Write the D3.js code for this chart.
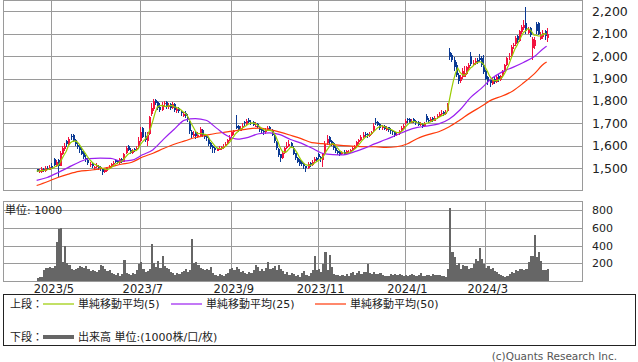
<!DOCTYPE html>
<html><head><meta charset="utf-8">
<script src="https://cdn.jsdelivr.net/npm/d3@7"></script>
<style>
html,body{margin:0;padding:0;background:#fff;}
svg{display:block;}
text{font-family:"DejaVu Sans","Noto Sans CJK JP",sans-serif;}
</style></head><body>
<svg id="c" width="638" height="362"></svg>
<script>
// ---- data ----
const open = [1495,1484,1483,1498,1488,1502,1492,1510,1540,1512,
1535,1512,1565,1585,1620,1605,1645,1648,1625,1605,
1598,1575,1570,1545,1535,1515,1522,1500,1505,1512,
1505,1498,1482,1488,1498,1508,1518,1535,1532,1522,
1540,1530,1568,1598,1582,1568,1585,1582,1595,1620,
1680,1645,1620,1655,1740,1765,1805,1795,1775,1760,
1785,1795,1772,1785,1768,1785,1755,1768,1752,1735,
1745,1728,1710,1662,1645,1660,1640,1645,1672,1650,
1645,1632,1612,1598,1592,1578,1583,1588,1592,1600,
1612,1625,1642,1662,1690,1688,1668,1682,1705,1698,
1715,1702,1705,1688,1698,1685,1675,1668,1660,1672,
1685,1672,1648,1615,1588,1562,1545,1568,1592,1600,
1612,1592,1568,1545,1535,1528,1518,1508,1502,1522,
1515,1532,1545,1565,1548,1535,1565,1612,1640,1620,
1612,1592,1578,1572,1562,1572,1565,1568,1572,1582,
1588,1600,1615,1628,1640,1655,1652,1645,1655,1665,
1705,1705,1698,1678,1688,1672,1682,1672,1668,1662,
1648,1655,1665,1680,1700,1718,1718,1702,1718,1712,
1705,1695,1698,1688,1735,1715,1708,1725,1712,1722,
1735,1740,1750,1742,1755,2020,2005,1985,1960,1915,
1890,1905,1908,1920,1948,2000,1962,1968,1985,1990,
1990,1960,1935,1905,1895,1878,1900,1885,1912,1895,
1910,1935,1962,1995,2000,2045,2052,2088,2068,2108,
2125,2150,2105,2125,2035,2045,2145,2148,2078,2085,2110,2082];
const high = [1498,1495,1505,1502,1508,1510,1515,1525,1545,1535,
1540,1575,1600,1612,1625,1640,1655,1652,1632,1615,
1605,1590,1575,1560,1545,1530,1528,1512,1522,1515,
1510,1500,1498,1505,1515,1525,1532,1540,1538,1545,
1545,1570,1598,1602,1590,1585,1592,1598,1640,1685,
1685,1660,1660,1735,1790,1810,1808,1800,1790,1795,
1800,1802,1790,1790,1795,1790,1775,1772,1760,1752,
1755,1740,1712,1670,1665,1665,1660,1685,1675,1655,
1650,1640,1618,1605,1596,1592,1598,1600,1608,1618,
1632,1648,1665,1670,1738,1695,1690,1700,1712,1718,
1722,1715,1712,1705,1702,1688,1680,1672,1678,1690,
1690,1675,1652,1620,1592,1565,1578,1595,1615,1625,
1615,1598,1570,1550,1540,1532,1522,1512,1528,1530,
1538,1548,1550,1570,1555,1570,1620,1648,1645,1628,
1618,1598,1582,1578,1578,1580,1582,1580,1588,1598,
1605,1622,1632,1650,1660,1662,1658,1662,1668,1700,
1725,1712,1702,1692,1695,1688,1686,1678,1672,1665,
1662,1672,1688,1698,1718,1725,1722,1718,1722,1715,
1710,1708,1702,1708,1740,1722,1728,1730,1732,1742,
1752,1758,1755,1760,1792,2036,2015,1995,1972,1925,
1915,1945,1955,1958,1968,2020,1985,1990,1992,2008,
2000,2005,1940,1910,1900,1905,1908,1915,1920,1918,
1940,1965,1995,2012,2048,2060,2090,2095,2118,2140,
2160,2220,2130,2130,2085,2085,2152,2152,2108,2118,2115,2125];
const low = [1484,1478,1480,1485,1485,1490,1490,1495,1508,1505,
1462,1510,1560,1575,1595,1600,1625,1615,1600,1585,
1570,1560,1540,1530,1515,1505,1500,1492,1500,1492,
1488,1472,1478,1485,1495,1505,1515,1522,1518,1520,
1525,1528,1562,1575,1565,1565,1572,1578,1592,1615,
1635,1615,1600,1650,1735,1755,1780,1760,1750,1755,
1775,1765,1765,1760,1765,1750,1748,1745,1735,1728,
1725,1705,1655,1635,1640,1630,1635,1640,1640,1630,
1622,1600,1585,1570,1570,1575,1580,1580,1588,1596,
1608,1620,1638,1650,1675,1662,1665,1675,1690,1695,
1700,1695,1688,1685,1680,1662,1655,1648,1655,1668,
1668,1645,1612,1580,1550,1530,1540,1565,1588,1595,
1592,1560,1538,1522,1512,1508,1498,1482,1498,1505,
1510,1525,1528,1540,1530,1506,1560,1605,1605,1600,
1582,1568,1560,1555,1558,1558,1560,1562,1568,1578,
1585,1598,1610,1622,1635,1640,1635,1640,1650,1660,
1695,1688,1672,1672,1670,1668,1662,1655,1648,1640,
1642,1650,1662,1675,1695,1700,1698,1700,1700,1692,
1688,1690,1680,1685,1705,1702,1705,1708,1710,1718,
1730,1735,1732,1738,1752,1985,1975,1935,1905,1875,
1882,1900,1905,1915,1940,1955,1955,1960,1965,1975,
1950,1922,1892,1870,1862,1872,1875,1880,1885,1890,
1905,1930,1955,1985,1995,2030,2045,2060,2062,2100,
2118,2100,2098,2085,1985,2030,2100,2095,2070,2075,2070,2065];
const close = [1488,1486,1495,1490,1500,1496,1505,1498,1515,1530,
1510,1570,1590,1600,1610,1630,1640,1620,1610,1595,
1580,1565,1550,1540,1525,1520,1510,1505,1515,1500,
1495,1485,1490,1500,1510,1520,1525,1530,1525,1540,
1530,1565,1590,1580,1570,1575,1580,1590,1620,1660,
1640,1625,1650,1730,1770,1800,1790,1770,1760,1780,
1790,1775,1780,1770,1785,1760,1765,1755,1745,1740,
1735,1715,1665,1650,1655,1645,1650,1675,1650,1640,
1635,1610,1595,1590,1580,1585,1590,1595,1600,1610,
1625,1640,1660,1665,1680,1670,1680,1690,1700,1710,
1705,1700,1695,1690,1685,1670,1665,1660,1670,1680,
1675,1650,1620,1590,1560,1545,1570,1590,1600,1610,
1600,1565,1545,1530,1520,1520,1510,1500,1520,1515,
1530,1540,1535,1550,1540,1565,1610,1630,1615,1610,
1590,1575,1570,1560,1570,1565,1575,1570,1580,1590,
1600,1615,1625,1640,1650,1650,1645,1655,1660,1690,
1700,1695,1680,1685,1675,1680,1670,1665,1660,1650,
1655,1665,1680,1690,1710,1715,1705,1710,1705,1700,
1695,1700,1690,1700,1715,1710,1720,1715,1725,1735,
1740,1745,1740,1750,1785,1995,1985,1950,1915,1890,
1905,1935,1925,1950,1960,1965,1970,1980,1975,1985,
1960,1930,1900,1890,1880,1895,1885,1905,1895,1910,
1935,1960,1990,2000,2040,2050,2080,2070,2110,2130,
2140,2110,2120,2095,2075,2070,2110,2100,2095,2105,2090,2100];
const volume = [30,40,50,120,150,145,160,150,170,440,
590,600,220,390,200,180,140,120,130,150,
165,160,150,175,130,110,120,110,100,125,
180,170,130,110,120,90,80,70,90,60,
80,240,90,80,70,90,75,120,190,210,
130,100,110,140,420,200,160,230,150,280,
170,150,130,100,90,70,95,80,100,110,
140,100,120,480,200,210,180,150,130,120,
140,120,160,90,70,60,80,70,60,80,
90,140,150,120,160,140,100,110,90,80,
100,90,120,180,160,110,130,110,150,210,
130,150,170,120,180,140,110,80,100,70,
90,80,60,70,50,90,110,70,60,90,
120,285,120,140,100,190,325,120,295,160,
80,70,70,60,65,60,75,60,90,100,
70,90,110,80,100,100,190,90,80,100,
75,80,85,70,60,55,60,75,70,75,
65,75,65,60,65,60,65,80,65,60,
65,85,55,55,70,65,60,75,65,70,
65,60,55,50,140,830,330,275,180,200,
140,180,170,175,140,150,190,250,230,375,
250,190,150,170,130,150,110,100,80,70,
60,50,55,80,100,90,120,110,140,130,
120,140,220,285,280,520,270,325,230,120,125,130];
// moving averages 25 / 50 every 5 trading days
const maIdx = [0,5,10,15,20,25,30,35,40,45,50,55,60,65,70,75,80,85,90,95,100,105,110,115,120,125,130,135,140,145,150,155,160,165,170,175,180,185,190,195,200,205,210,215,220,225,230,235,240,241];
const ma25 = [1446,1459,1480,1504,1527,1543,1545,1544,1532,1536,1560,1583,1630,1674,1715,1721,1714,1679,1645,1630,1638,1654,1658,1650,1628,1612,1590,1567,1561,1560,1573,1590,1610,1628,1648,1668,1682,1689,1698,1720,1760,1815,1855,1900,1930,1950,1972,1997,2038,2044];
const ma50 = [1423,1440,1459,1474,1486,1491,1497,1507,1518,1527,1550,1567,1588,1607,1622,1637,1647,1656,1662,1669,1676,1679,1672,1661,1647,1632,1614,1610,1605,1601,1598,1596,1596,1593,1596,1608,1633,1650,1663,1685,1715,1747,1775,1805,1822,1845,1880,1920,1968,1974];
const priceTicks = [1500,1600,1700,1800,1900,2000,2100,2200];
const volTicks = [200,400,600,800];
const monthLabels = ["2023/5","2023/7","2023/9","2023/11","2024/1","2024/3"];
const monthIdx = [7,49,92,133,174,212];
const legendTop = ["単純移動平均(5)","単純移動平均(25)","単純移動平均(50)"];

// ---- layout ----
const N = close.length;
const plotL = 3, plotR = 582, mainT = 1, mainB = 190, volT = 201, volB = 281;
const C_UP = "#f2133f", C_DN = "#0b3a94", GRID = "#9a9a9a";
const C5 = "#99cc00", C25 = "#9b1ff0", C50 = "#ff3a0a";

const x = d3.scaleLinear().domain([-15.9, 257.7]).range([plotL, plotR]);
const y = d3.scaleLinear().domain([1403, 2246]).range([mainB, mainT]);
const yv = d3.scaleLinear().domain([0, 904]).range([volB, volT]);

const svg = d3.select("#c");
svg.append("rect").attr("width",638).attr("height",362).attr("fill","#fff");

// main grid
const gm = svg.append("g");
gm.append("g").attr("transform",`translate(${plotL},0)`)
  .call(d3.axisLeft(y).tickValues(priceTicks).tickSize(-(plotR-plotL)).tickFormat(""))
  .call(g=>g.select(".domain").remove())
  .call(g=>g.selectAll("line").attr("stroke",GRID).attr("shape-rendering","crispEdges"));
gm.append("g").attr("transform",`translate(0,${mainB})`)
  .call(d3.axisBottom(x).tickValues(monthIdx).tickSize(-(mainB-mainT)).tickFormat(""))
  .call(g=>g.select(".domain").remove())
  .call(g=>g.selectAll("line").attr("stroke",GRID).attr("shape-rendering","crispEdges"));
gm.append("rect").attr("x",plotL+0.5).attr("y",mainT-0.5).attr("width",plotR-plotL).attr("height",mainB-mainT+0.5)
  .attr("fill","none").attr("stroke",GRID).attr("shape-rendering","crispEdges");
// price labels
gm.append("g").attr("transform",`translate(${plotR},0)`)
  .call(d3.axisRight(y).tickValues(priceTicks).tickSize(0).tickPadding(10).tickFormat(d3.format(",")))
  .call(g=>g.select(".domain").remove())
  .call(g=>g.selectAll("text").attr("font-size","12.5px").attr("fill","#222").attr("font-family","DejaVu Sans"));

// candles
const idx = d3.range(N);
const cg = svg.append("g").attr("shape-rendering","crispEdges");
cg.selectAll("line.w").data(idx).join("line")
  .attr("x1",i=>Math.round(x(i))+0.5).attr("x2",i=>Math.round(x(i))+0.5)
  .attr("y1",i=>y(high[i])).attr("y2",i=>y(low[i]))
  .attr("stroke",i=>close[i]>=open[i]?C_UP:C_DN).attr("stroke-width",1);
cg.selectAll("rect.b").data(idx).join("rect")
  .attr("x",i=>Math.round(x(i))-0.5).attr("width",2)
  .attr("y",i=>y(Math.max(open[i],close[i])))
  .attr("height",i=>Math.max(1,Math.abs(y(open[i])-y(close[i]))))
  .attr("fill",i=>close[i]>=open[i]?C_UP:C_DN);

// moving averages
const ma5 = idx.map(i=>d3.mean(close.slice(Math.max(0,i-4),i+1)));
const line = d3.line().x(d=>x(d[0])).y(d=>y(d[1]));
svg.append("path").datum(maIdx.map((k,j)=>[k,ma50[j]])).attr("d",line.curve(d3.curveMonotoneX))
  .attr("fill","none").attr("stroke",C50).attr("stroke-width",1.2);
svg.append("path").datum(maIdx.map((k,j)=>[k,ma25[j]])).attr("d",line.curve(d3.curveMonotoneX))
  .attr("fill","none").attr("stroke",C25).attr("stroke-width",1.2);
svg.append("path").datum(idx.map(i=>[i,ma5[i]])).attr("d",line.curve(d3.curveLinear))
  .attr("fill","none").attr("stroke",C5).attr("stroke-width",1.2);

// volume panel
const gv = svg.append("g");
gv.append("g").attr("transform",`translate(${plotL},0)`)
  .call(d3.axisLeft(yv).tickValues(volTicks).tickSize(-(plotR-plotL)).tickFormat(""))
  .call(g=>g.select(".domain").remove())
  .call(g=>g.selectAll("line").attr("stroke",GRID).attr("shape-rendering","crispEdges"));
gv.append("g").attr("transform",`translate(0,${volB})`)
  .call(d3.axisBottom(x).tickValues(monthIdx.slice(1)).tickSize(-(volB-volT)).tickFormat(""))
  .call(g=>g.select(".domain").remove())
  .call(g=>g.selectAll("line").attr("stroke",GRID).attr("shape-rendering","crispEdges"));
gv.append("rect").attr("x",plotL+0.5).attr("y",volT+0.5).attr("width",plotR-plotL).attr("height",volB-volT)
  .attr("fill","none").attr("stroke",GRID).attr("shape-rendering","crispEdges");
gv.append("g").attr("shape-rendering","crispEdges").selectAll("rect").data(idx).join("rect")
  .attr("x",i=>Math.round(x(i))-0.5)
  .attr("width",i=>Math.max(2,Math.round(x(i+1))-Math.round(x(i))))
  .attr("y",i=>yv(volume[i])).attr("height",i=>volB-yv(volume[i])).attr("fill","#666");
gv.append("g").attr("transform",`translate(${plotR},0)`)
  .call(d3.axisRight(yv).tickValues(volTicks).tickSize(0).tickPadding(10).tickFormat(d3.format("d")))
  .call(g=>g.select(".domain").remove())
  .call(g=>g.selectAll("text").attr("font-size","11px").attr("fill","#222").attr("font-family","DejaVu Sans"));
gv.append("text").attr("x",5).attr("y",214).attr("font-size","11px").attr("fill","#222").text("単位: 1000");

// month labels
svg.append("g").attr("transform",`translate(2,${volB})`)
  .call(d3.axisBottom(x).tickValues(monthIdx).tickSize(0).tickPadding(4)
    .tickFormat((d,i)=>monthLabels[i]))
  .call(g=>g.select(".domain").remove())
  .call(g=>g.selectAll("text").attr("font-size","11.5px").attr("fill","#222").attr("font-family","DejaVu Sans"));

// legend
const lg = svg.append("g");
lg.append("rect").attr("x",3.5).attr("y",294.5).attr("width",632).attr("height",51)
  .attr("fill","none").attr("stroke","#222").attr("shape-rendering","crispEdges");
lg.append("text").attr("x",10).attr("y",308).attr("font-size","11px").attr("fill","#222").text("上段：");
const legX = [43,171,315], legC = [C5,C25,C50];
legendTop.forEach((t,k)=>{
  lg.append("line").attr("x1",legX[k]).attr("x2",legX[k]+31).attr("y1",304).attr("y2",304)
    .attr("stroke",legC[k]).attr("stroke-width",1.2);
  lg.append("text").attr("x",legX[k]+35).attr("y",308).attr("font-size","11px").attr("fill","#222").text(t);
});
lg.append("text").attr("x",10).attr("y",341).attr("font-size","11px").attr("fill","#222").text("下段：");
lg.append("line").attr("x1",43).attr("x2",74).attr("y1",337).attr("y2",337).attr("stroke","#666").attr("stroke-width",4);
lg.append("text").attr("x",78).attr("y",341).attr("font-size","11px").attr("fill","#222").text("出来高 単位:(1000株/口/枚)");
svg.append("text").attr("x",617).attr("y",360).attr("text-anchor","end").attr("font-size","10.5px")
  .attr("fill","#555").text("(c)Quants Research Inc.");
</script>
</body></html>
